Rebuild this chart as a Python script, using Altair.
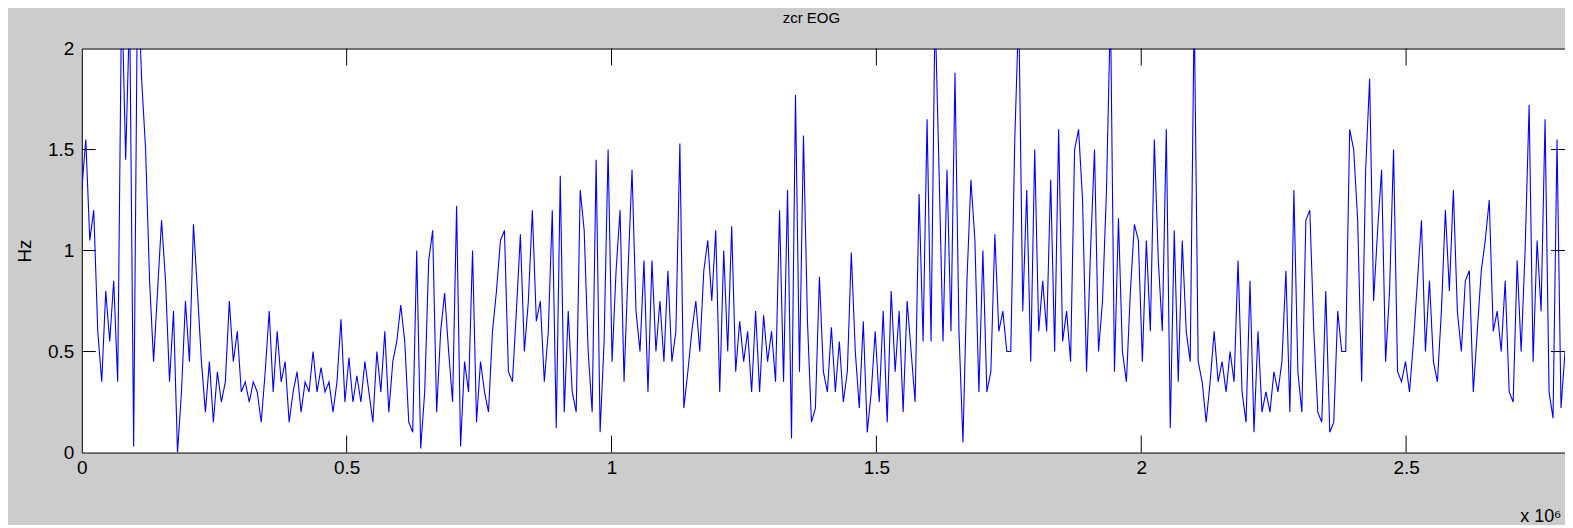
import altair as alt
import numpy as np
import pandas as pd

# zcr EOG values (Hz), one value every ~7.5e3 samples
seg_a = [1.3, 1.55, 1.05, 1.2, 0.6, 0.35, 0.8, 0.55, 0.85, 0.35, 2.3, 1.45, 2.2, 0.03, 2.4, 1.85, 1.5,
         0.85, 0.45, 0.8, 1.15, 0.85, 0.35, 0.7, 0.0, 0.3, 0.75, 0.45, 1.13, 0.8, 0.45, 0.2, 0.45, 0.15,
         0.4, 0.25, 0.35, 0.75, 0.45, 0.6, 0.3, 0.35, 0.25, 0.35, 0.3, 0.15, 0.4, 0.7, 0.3, 0.6, 0.35,
         0.45, 0.15]
seg_b = [0.3, 0.4, 0.2, 0.35, 0.3, 0.5, 0.3, 0.42, 0.3, 0.35, 0.2, 0.35, 0.66, 0.25, 0.47, 0.25, 0.38,
         0.25, 0.45, 0.3, 0.15, 0.5, 0.3, 0.6, 0.2, 0.45, 0.55, 0.73, 0.55, 0.15, 0.1, 1.0, 0.02, 0.3,
         0.95, 1.1, 0.2, 0.6, 0.79, 0.5, 0.25, 1.22, 0.03, 0.45, 0.3, 1.0, 0.15, 0.45, 0.3, 0.2, 0.6,
         0.8, 1.05]
seg_c = [1.1, 0.4, 0.35, 0.7, 1.08, 0.5, 0.75, 1.2, 0.65, 0.75, 0.35, 0.6, 1.2, 0.12, 1.37, 0.2, 0.7,
         0.3, 0.2, 1.3, 1.1, 0.5, 0.2, 1.45, 0.1, 0.55, 1.5, 0.45, 0.9, 1.2, 0.35, 0.9, 1.4, 0.7, 0.5,
         0.95, 0.3, 0.95, 0.5, 0.75, 0.45, 0.9, 0.45, 0.6, 1.53, 0.22, 0.4, 0.6, 0.75, 0.5, 0.9, 1.05,
         0.75]
seg_d = [1.1, 0.3, 1.0, 0.5, 1.12, 0.4, 0.65, 0.45, 0.6, 0.3, 0.7, 0.3, 0.68, 0.45, 0.6, 0.35, 1.2,
         0.35, 1.3, 0.07, 1.77, 0.4, 1.57, 0.65, 0.15, 0.22, 0.87, 0.4, 0.3, 0.62, 0.3, 0.55, 0.25, 0.4,
         0.99, 0.5, 0.22, 0.65, 0.1, 0.3, 0.6, 0.25, 0.7, 0.15, 0.8, 0.4, 0.7, 0.2, 0.75, 0.5, 0.25,
         1.28, 0.55]
seg_e = [1.65, 0.55, 2.2, 1.4, 0.55, 1.4, 0.6, 1.88, 0.6, 0.05, 0.85, 1.35, 1.05, 0.3, 1.0, 0.3, 0.4,
         1.08, 0.6, 0.7, 0.5, 0.5, 1.55, 2.2, 0.7, 1.3, 0.45, 1.5, 0.6, 0.85, 0.6, 1.35, 0.5, 1.6, 0.55,
         0.7, 0.45, 1.5, 1.6, 1.25, 0.4, 1.0, 1.5, 0.5, 0.75, 1.3, 2.2, 0.4, 1.16, 0.5, 0.35, 0.8, 1.13]
seg_f = [1.05, 0.45, 1.05, 0.6, 1.55, 0.95, 0.6, 1.6, 0.12, 1.1, 0.35, 1.05, 0.6, 0.45, 2.2, 0.45,
         0.35, 0.15, 0.35, 0.6, 0.35, 0.45, 0.3, 0.5, 0.35, 0.95, 0.3, 0.15, 0.85, 0.1, 0.6, 0.2, 0.3,
         0.2, 0.4, 0.3, 0.45, 0.9, 0.2, 1.3, 0.4, 0.2, 1.15, 1.2, 0.6, 0.2, 0.15, 0.8, 0.1, 0.15, 0.7,
         0.5, 0.5]
seg_g = [1.6, 1.5, 1.15, 0.35, 1.4, 1.85, 0.75, 1.1, 1.4, 0.45, 0.8, 1.5, 0.4, 0.35, 0.45, 0.3, 0.55,
         0.85, 1.15, 0.5, 0.85, 0.45, 0.35, 0.7, 1.2, 0.8, 1.3, 0.7, 0.5, 0.85, 0.9, 0.3, 0.6, 0.9, 1.05,
         1.25, 0.6, 0.7, 0.5, 0.85, 0.3, 0.25, 0.95, 0.5, 1.0, 1.72, 0.45, 1.05, 0.7, 1.65, 0.3, 0.17,
         1.55, 0.22, 0.5]

values = seg_a + seg_b + seg_c + seg_d + seg_e + seg_f + seg_g
X_MAX = 2.8e6
x_ticks = [0, 500000, 1000000, 1500000, 2000000, 2500000]
y_ticks = [0, 0.5, 1, 1.5, 2]

df = pd.DataFrame({"x": np.linspace(0, X_MAX, len(values)), "hz": values})
ytick_df = pd.DataFrame({"hz": y_ticks[1:-1]})
xtick_df = pd.DataFrame({"x": x_ticks[1:]})

W, H = 1487, 405
FONT = "Liberation Sans, Arial, Helvetica, sans-serif"

x_scale = alt.Scale(domain=[0, X_MAX], nice=False, zero=False)
y_scale = alt.Scale(domain=[0, 2], nice=False)

x_axis = alt.Axis(values=x_ticks, labelExpr="format(datum.value / 1000000, '~g')", title="x 10⁶",
                  titleAnchor="end", titleAlign="right", titleBaseline="alphabetic",
                  titleX=W - 4, titleY=69, titleFontWeight="normal", titleFontSize=18,
                  labelPadding=6, labelFlush=False, tickSize=0, ticks=False, domain=False, grid=False)
y_axis = alt.Axis(values=y_ticks, labelExpr="format(datum.value, '~g')", title="Hz", titleAngle=270,
                  titleX=-57, titleY=H / 2, titleAlign="center", titleBaseline="middle",
                  titleFontWeight="normal", titleFontSize=19, labelPadding=8, tickSize=0, ticks=False,
                  domain=False, grid=False)

X = alt.X("x:Q", scale=x_scale, axis=x_axis)
Y = alt.Y("hz:Q", scale=y_scale, axis=y_axis)

left_ticks = alt.Chart(ytick_df).mark_rule(color="black", strokeWidth=1).encode(
    y=Y, x=alt.value(0), x2=alt.value(14))
right_ticks = alt.Chart(ytick_df).mark_rule(color="black", strokeWidth=1).encode(
    y=Y, x=alt.value(W - 14), x2=alt.value(W))
bottom_ticks = alt.Chart(xtick_df).mark_rule(color="black", strokeWidth=1).encode(
    x=X, y=alt.value(H), y2=alt.value(H - 17))
top_ticks = alt.Chart(xtick_df).mark_rule(color="black", strokeWidth=1).encode(
    x=X, y=alt.value(0), y2=alt.value(17))

line = alt.Chart(df).mark_line(color="#0000ff", strokeWidth=1.1, clip=True).encode(x=X, y=Y)

chart = alt.layer(left_ticks, right_ticks, bottom_ticks, top_ticks, line).properties(
    width=W, height=H,
    title=alt.TitleParams("zcr EOG", font=FONT, fontSize=15, fontWeight="normal", color="black",
                          anchor="middle", frame="group", offset=13, dx=-12, dy=-1),
    autosize=alt.AutoSizeParams(type="none"),
    padding={"left": 74, "top": 40, "right": 0, "bottom": 72},
).configure(
    background="#cccccc",
    font=FONT,
).configure_view(
    fill="white", stroke="black", strokeWidth=1,
).configure_axis(
    labelFont=FONT, labelFontSize=19, labelColor="black", titleFont=FONT, titleColor="black",
)

chart.save("out.html", embed_options={"renderer": "svg", "actions": False})
